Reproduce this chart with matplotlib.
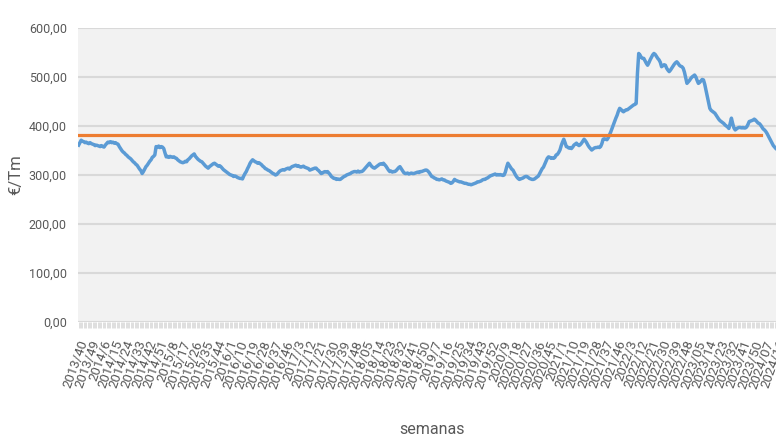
import matplotlib
matplotlib.use("Agg")
import matplotlib.pyplot as plt
from matplotlib.ticker import FuncFormatter
import numpy as np

# Weekly price (EUR/Tm) from 2013/40 onwards, one value per week
prices = [
    361, 366, 371, 369, 368, 366, 367, 365, 364, 366,
    364, 363, 362, 360, 361, 360, 359, 358, 360, 358,
    357, 361, 364, 367, 366, 368, 366, 367, 365, 366,
    364, 363, 358, 354, 350, 347, 345, 342, 340, 337,
    335, 333, 330, 327, 325, 322, 320, 316, 312, 309,
    303, 307, 312, 317, 320, 324, 328, 331, 336, 338,
    341, 358, 357, 359, 356, 358, 357, 354, 345, 337,
    338, 336, 338, 337, 336, 337, 335, 334, 331, 329,
    327, 326, 325, 326, 328, 327, 331, 333, 336, 339,
    341, 343, 338, 335, 332, 330, 328, 327, 324, 321,
    318, 316, 314, 317, 319, 321, 323, 324, 322, 320,
    318, 319, 317, 314, 311, 309, 307, 305, 303, 301,
    300, 299, 297, 298, 297, 295, 294, 293, 293, 292,
    298, 303, 307, 313, 318, 324, 328, 331, 329, 327,
    326, 324, 325, 323, 321, 318, 316, 313, 312, 310,
    309, 307, 305, 303, 302, 300, 301, 304, 307, 309,
    310, 311, 310, 312, 313, 314, 312, 315, 317, 318,
    319, 320, 318, 319, 317, 316, 317, 318, 316, 315,
    314, 313, 310, 311, 312, 313, 314, 314, 311, 309,
    306, 303, 304, 306, 307, 306, 307, 304, 301, 297,
    295, 293, 293, 291, 292, 291, 291, 293, 295, 297,
    298, 300, 301, 302, 303, 305, 306, 307, 307, 306,
    308, 306, 307, 307, 309, 312, 315, 318, 321, 324,
    320, 317, 315, 314, 316, 318, 320, 322, 323, 322,
    324, 321, 318, 314, 310, 307, 308, 306, 307, 307,
    309, 312, 315, 317, 313, 309, 305, 303, 303, 304,
    302, 303, 304, 303, 303, 304, 305, 306, 305, 307,
    307, 308, 309, 310, 310, 308, 305, 301, 297, 296,
    294, 293, 291, 291, 290, 291, 292, 290, 290, 288,
    287, 286, 285, 283, 284, 287, 291, 289, 288, 287,
    286, 286, 285, 284, 283, 283, 282, 281, 281, 280,
    281, 282, 283, 284, 286, 286, 287, 288, 290, 291,
    291, 293, 294, 296, 298, 299, 300, 301, 302, 300,
    301, 300, 301, 300, 299, 300, 306, 316, 324, 320,
    316, 312, 310, 305, 300, 296, 293, 291, 292, 293,
    294, 296, 297, 297, 295, 293, 292, 291, 291, 292,
    294, 296, 298, 303, 308, 313, 316, 322, 328, 334,
    337, 336, 334, 335, 334, 336, 341, 342, 346, 351,
    360, 367, 373, 366, 358, 357, 355, 356, 354, 357,
    361, 363, 365, 362, 360, 362, 365, 369, 373, 370,
    366, 361, 357, 354, 351, 353, 355, 356, 356, 357,
    356, 358, 364, 373, 374, 373, 372, 376, 382, 388,
    395, 402, 409, 416, 422, 430, 436, 434, 431, 429,
    431, 433, 433, 435, 437, 439, 441, 443, 444, 446,
    507, 548, 545, 540, 538, 538, 533, 528, 524, 529,
    535, 540, 545, 548, 546, 542, 538, 535, 530, 521,
    523, 525, 524, 518, 514, 511, 514, 518, 522, 526,
    529, 531, 528, 524, 522, 521, 518, 510, 498, 487,
    490, 493, 497, 500, 502, 504, 500, 493, 487, 489,
    492, 495, 494, 485, 473, 460, 448, 436, 432, 430,
    428, 426, 422, 418, 414, 411, 409, 407, 405, 402,
    400, 398, 395, 405, 416, 405, 396, 392, 394, 396,
    397, 397, 396, 397, 396, 396, 398, 403, 409, 410,
    411, 412, 414, 412, 409, 406, 405, 402, 398, 394,
    392, 389, 385, 380, 375, 370, 365, 360, 357, 354, 352, 350,
]

# Reference (average) level and how many weeks it spans
average_value = 381
average_weeks = 538

# Tick labels, one every 9 weeks
tick_labels = [
    "2013/40", "2013/49", "2014/6", "2014/15", "2014/24", "2014/33", "2014/42",
    "2014/51", "2015/8", "2015/17", "2015/26", "2015/35", "2015/44", "2016/1",
    "2016/10", "2016/19", "2016/28", "2016/37", "2016/46", "2017/3", "2017/12",
    "2017/21", "2017/30", "2017/39", "2017/48", "2018/05", "2018/14", "2018/23",
    "2018/32", "2018/41", "2018/50", "2019/7", "2019/16", "2019/25", "2019/34",
    "2019/43", "2019/52", "2020/9", "2020/18", "2020/27", "2020/36", "2020/45",
    "2021/1", "2021/10", "2021/19", "2021/28", "2021/37", "2021/46", "2022/3",
    "2022/12", "2022/21", "2022/30", "2022/39", "2022/48", "2023/05", "2023/14",
    "2023/23", "2023/32", "2023/41", "2023/50", "2024/07", "2024/16",
]
tick_step = 9

y_label = "€/Tm"
x_label = "semanas"

FONT = ["Roboto", "DejaVu Sans"]
TEXT_COLOR = "#595959"
GRID_COLOR = "#d9d9d9"

n = len(prices)
x = np.arange(n)

fig = plt.figure(figsize=(7.76, 4.42), dpi=100)
W, H = 776, 442
left_px, top_px, bottom_px = 78, 28, 322
width_px = n * 1.27
ax = fig.add_axes([left_px / W, 1 - bottom_px / H, width_px / W, (bottom_px - top_px) / H])
ax.set_facecolor("#f2f2f2")

ax.plot(x, prices, color="#5b9bd5", lw=2.5, solid_joinstyle="round", zorder=3)
ax.plot(x[:average_weeks], [average_value] * average_weeks, color="#ed7d31", lw=2.3, zorder=4)

ax.set_xlim(-0.5, n - 0.5)
ax.set_ylim(0, 600)
ax.set_yticks(np.arange(0, 601, 100))
ax.yaxis.set_major_formatter(FuncFormatter(lambda v, p: f"{v:.2f}".replace(".", ",")))
ax.grid(axis="y", color=GRID_COLOR, lw=1.5, zorder=1)
ax.set_axisbelow(True)
for s in ax.spines.values():
    s.set_visible(False)

ax.tick_params(axis="y", length=0, pad=8, labelcolor=TEXT_COLOR)
for lab in ax.get_yticklabels():
    lab.set_family(FONT)
    lab.set_fontsize(9)

major_pos = [i * tick_step for i in range(len(tick_labels))]
ax.set_xticks(major_pos)
ax.set_xticklabels(tick_labels, rotation=70, ha="right", va="top",
                   rotation_mode="anchor", family=FONT, fontsize=9.5, color=TEXT_COLOR)
ax.set_xticks(x, minor=True)
ax.tick_params(axis="x", which="both", length=4, width=0.6, color=GRID_COLOR, pad=8)

fig.text(16 / W, 1 - 175 / H, y_label, rotation=90, ha="center", va="center",
         family=FONT, fontsize=12, color=TEXT_COLOR)
fig.text(432 / W, 1 - 430 / H, x_label, ha="center", va="center",
         family=FONT, fontsize=11.5, color=TEXT_COLOR)

fig.savefig("out.png", dpi=100)
